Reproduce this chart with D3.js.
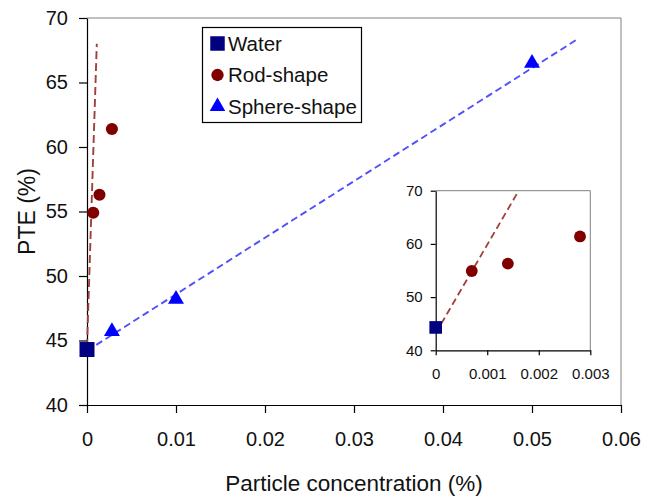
<!DOCTYPE html>
<html>
<head>
<meta charset="utf-8">
<script src="https://cdn.jsdelivr.net/npm/d3@7"></script>
<style>
  body { margin: 0; background: #fff; }
  text { font-family: "Liberation Sans", Arial, sans-serif; fill: #111; }
</style>
</head>
<body>
<svg id="chart" width="657" height="498"></svg>
<script>
// data
const waterX = [0];
const waterY = [44.3];
const rodX = [0.0007, 0.0014, 0.0028];
const rodY = [54.9, 56.3, 61.4];
const sphereX = [0.0028, 0.01, 0.05];
const sphereY = [45.7, 48.2, 66.5];

// trend lines (end points)
const sphereTrendX = [0, 0.0552];
const sphereTrendY = [44.2, 68.4];
const rodTrendX = [0, 0.0011];
const rodTrendY = [44.5, 68];
const rodTrendInsetX = [0, 0.00161];
const rodTrendInsetY = [43.2, 70];

const xTicks = [0, 0.01, 0.02, 0.03, 0.04, 0.05, 0.06];
const yTicks = [40, 45, 50, 55, 60, 65, 70];
const insetXTicks = [0, 0.001, 0.002, 0.003];
const insetYTicks = [40, 50, 60, 70];

const seriesNames = ["Water", "Rod-shape", "Sphere-shape"];
const colors = { water: "#000080", rod: "#800000", sphere: "#0000ff" };

const svg = d3.select("#chart");

const zip = (xs, ys) => xs.map((x, i) => ({ x: x, y: ys[i] }));

// ---------- main plot ----------
const x = d3.scaleLinear().domain([0, 0.06]).range([87, 621]);
const y = d3.scaleLinear().domain([40, 70]).range([405, 18]);

// grey frame on top/right
svg.append("path")
  .attr("d", `M${x(0)},${y(70)}H${x(0.06)}V${y(40)}`)
  .attr("fill", "none")
  .attr("stroke", "#808080")
  .attr("stroke-width", 1);

const yAxis = svg.append("g")
  .attr("transform", `translate(${x(0)},0)`)
  .call(d3.axisLeft(y).tickValues(yTicks).tickSize(8).tickPadding(11).tickSizeOuter(0));

const xAxis = svg.append("g")
  .attr("transform", `translate(0,${y(40)})`)
  .call(d3.axisBottom(x).tickValues(xTicks).tickFormat(d => String(d)).tickSize(8).tickPadding(19).tickSizeOuter(0));

[yAxis, xAxis].forEach(g => {
  g.selectAll("path, line").attr("stroke", "#000").attr("stroke-width", 1.2);
  g.selectAll("text").style("font-size", "20px").attr("fill", "#111");
});

svg.append("text")
  .attr("x", (x(0) + x(0.06)) / 2)
  .attr("y", 491)
  .attr("text-anchor", "middle")
  .style("font-size", "22.5px")
  .text("Particle concentration (%)");

svg.append("text")
  .attr("transform", `translate(27, ${(y(40) + y(70)) / 2}) rotate(-90)`)
  .attr("dy", "0.35em")
  .attr("text-anchor", "middle")
  .style("font-size", "23px")
  .text("PTE (%)");

const line = (sx, sy) => d3.line().x(d => sx(d.x)).y(d => sy(d.y));

svg.append("path")
  .datum(zip(sphereTrendX, sphereTrendY))
  .attr("d", line(x, y))
  .attr("fill", "none")
  .attr("stroke", "#4f4fff")
  .attr("stroke-width", 1.9)
  .attr("stroke-dasharray", "7,4");

svg.append("path")
  .datum(zip(rodTrendX, rodTrendY))
  .attr("d", line(x, y))
  .attr("fill", "none")
  .attr("stroke", "#a0403c")
  .attr("stroke-width", 1.9)
  .attr("stroke-dasharray", "8,4");

function drawMarkers(g, data, sx, sy, type, size, color) {
  g.selectAll(null)
    .data(data)
    .enter()
    .append("path")
    .attr("transform", d => `translate(${sx(d.x)},${sy(d.y)})`)
    .attr("d", d3.symbol().type(type).size(size))
    .attr("fill", color);
}

drawMarkers(svg, zip(rodX, rodY), x, y, d3.symbolCircle, 115, colors.rod);
drawMarkers(svg, zip(sphereX, sphereY), x, y, d3.symbolTriangle, 110, colors.sphere);
drawMarkers(svg, zip(waterX, waterY), x, y, d3.symbolSquare, 225, colors.water);

// ---------- legend ----------
const legend = svg.append("g");
legend.append("rect")
  .attr("x", 202.5).attr("y", 27.5)
  .attr("width", 159).attr("height", 95)
  .attr("fill", "#fff")
  .attr("stroke", "#000")
  .attr("stroke-width", 1.2);

const legendTypes = [
  { sym: d3.symbolSquare, size: 210, color: colors.water },
  { sym: d3.symbolCircle, size: 120, color: colors.rod },
  { sym: d3.symbolTriangle, size: 105, color: colors.sphere }
];
seriesNames.forEach((name, i) => {
  const cy = 43.5 + i * 31.5;
  legend.append("path")
    .attr("transform", `translate(217.5,${cy})`)
    .attr("d", d3.symbol().type(legendTypes[i].sym).size(legendTypes[i].size))
    .attr("fill", legendTypes[i].color);
  legend.append("text")
    .attr("x", 228)
    .attr("y", cy)
    .attr("dy", "0.36em")
    .style("font-size", "20.5px")
    .text(name);
});

// ---------- inset ----------
const ix = d3.scaleLinear().domain([0, 0.003]).range([435.7, 590.3]);
const iy = d3.scaleLinear().domain([40, 70]).range([350.3, 190.7]);
const inset = svg.append("g");

inset.append("rect")
  .attr("x", ix(0)).attr("y", iy(70))
  .attr("width", ix(0.003) - ix(0)).attr("height", iy(40) - iy(70))
  .attr("fill", "#fff");

inset.append("path")
  .attr("d", `M${ix(0)},${iy(70)}H${ix(0.003)}V${iy(40)}`)
  .attr("fill", "none")
  .attr("stroke", "#808080")
  .attr("stroke-width", 1);

const iyAxis = inset.append("g")
  .attr("transform", `translate(${ix(0)},0)`)
  .call(d3.axisLeft(iy).tickValues(insetYTicks).tickSize(5).tickPadding(8).tickSizeOuter(0));
const ixAxis = inset.append("g")
  .attr("transform", `translate(0,${iy(40)})`)
  .call(d3.axisBottom(ix).tickValues(insetXTicks).tickFormat(d => String(d)).tickSize(5).tickPadding(13).tickSizeOuter(0));

[iyAxis, ixAxis].forEach(g => {
  g.selectAll("path, line").attr("stroke", "#000").attr("stroke-width", 1.2);
  g.selectAll("text").style("font-size", "15px").attr("fill", "#111");
});

inset.append("path")
  .datum(zip(rodTrendInsetX, rodTrendInsetY))
  .attr("d", line(ix, iy))
  .attr("fill", "none")
  .attr("stroke", "#a0403c")
  .attr("stroke-width", 1.8)
  .attr("stroke-dasharray", "7,4");

drawMarkers(inset, zip(rodX, rodY), ix, iy, d3.symbolCircle, 110, colors.rod);
drawMarkers(inset, zip(waterX, waterY), ix, iy, d3.symbolSquare, 160, colors.water);
</script>
</body>
</html>
